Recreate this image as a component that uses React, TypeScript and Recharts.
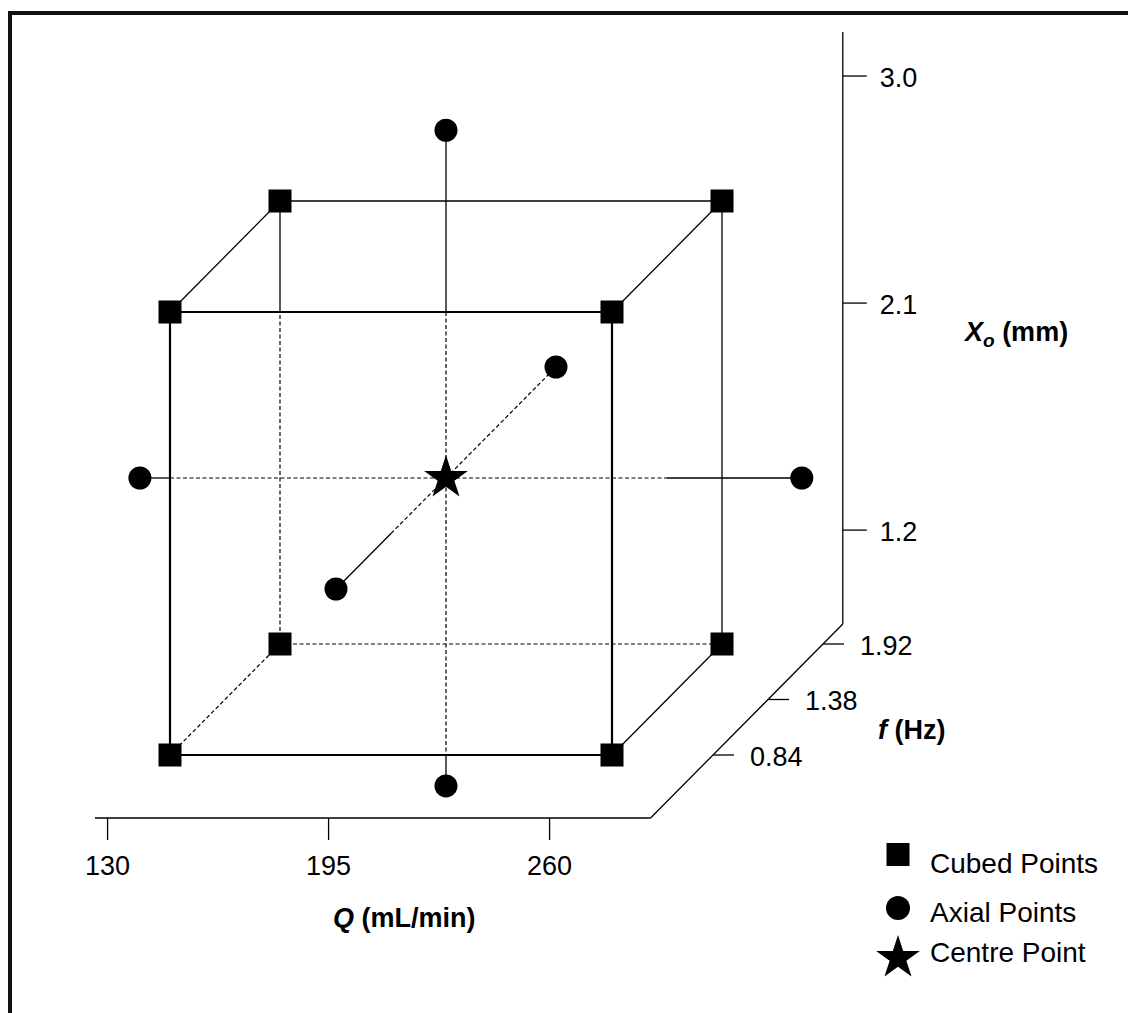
import React from "react";
import { ScatterChart, Scatter, XAxis, YAxis, ReferenceLine, Legend } from "recharts";

// axis tick values (real units)
const Q_TICKS = [130, 195, 260]; // mL/min
const F_TICKS = [0.84, 1.38, 1.92]; // Hz
const XO_TICKS = [1.2, 2.1, 3.0]; // mm

// design points in coded levels [Q, f, Xo]
const CUBED_POINTS = [
  [-1, -1, -1], [1, -1, -1], [-1, -1, 1], [1, -1, 1],
  [-1, 1, -1], [1, 1, -1], [-1, 1, 1], [1, 1, 1],
];
const AXIAL_POINTS = [
  [-1.385, 0, 0], [1.61, 0, 0],
  [0, -2, 0], [0, 2, 0],
  [0, 0, 1.57], [0, 0, -1.39],
];
const CENTRE_POINT = [[0, 0, 0]];

const LEGEND_ITEMS = ["Cubed Points", "Axial Points", "Centre Point"];

// ---- layout / projection ----
const CHART_W = 1116;
const CHART_H = 998;
const ORIGIN = { x: 434, y: 463 }; // where coded (0,0,0) lands inside the chart
const SX = 221; // px per coded Q
const SY = 221.5; // px per coded Xo
const DX = 55; // oblique depth offset per coded f
const DY = 55.5;

const X_DOMAIN = [-ORIGIN.x / SX, (CHART_W - ORIGIN.x) / SX];
const Y_DOMAIN = [-(CHART_H - ORIGIN.y) / SY, ORIGIN.y / SY];

const FONT = "'Liberation Sans', Arial, Helvetica, sans-serif";

const codeQ = (v: number) => (v - 195) / 65;
const codeF = (v: number) => (v - 1.38) / 0.54;
const codeXo = (v: number) => (v - 2.1) / 0.9;

const project = (p: number[]) => ({ X: p[0] + (p[1] * DX) / SX, Y: p[2] + (p[1] * DY) / SY });
const pt = (p: number[]) => {
  const P = project(p);
  return { x: P.X, y: P.Y };
};

// axes frame placement (coded space)
const FQ = -2.135; // depth of the Q axis
const QA = 1.457; // Q position of the f axis
const FT = 1.36; // depth where the f axis meets the Xo axis
const XO_SHIFT = 0.449; // the Xo scale is drawn offset from the cube
const XO_STRETCH = 1.025;
const XO_TOP = 1.673;

const xoAxisPos = (v: number) => codeXo(v) * XO_STRETCH + XO_SHIFT;

const KY = DY / SY;
const KX = DX / SX;

const FRONT_EDGES = [
  [[-1, -1, 1], [1, -1, 1]],
  [[-1, -1, -1], [1, -1, -1]],
  [[-1, -1, -1], [-1, -1, 1]],
  [[1, -1, -1], [1, -1, 1]],
];
const SOLID_EDGES = [
  [[-1, 1, 1], [1, 1, 1]],
  [[-1, -1, 1], [-1, 1, 1]],
  [[1, -1, 1], [1, 1, 1]],
  [[1, 1, -1], [1, 1, 1]],
  [[1, -1, -1], [1, 1, -1]],
  [[-1, 1, 1 - 2 * KY], [-1, 1, 1]],
  [[0, 0, 1.57], [0, 0, 1 - KY]],
  [[0, 0, -1 - KY], [0, 0, -1.39]],
  [[-1.385, 0, 0], [-1 - KX, 0, 0]],
  [[1, 0, 0], [1.61, 0, 0]],
  [[0, -2, 0], [0, -1, 0]],
];
const DASHED_EDGES = [
  [[-1, 1, -1], [-1, 1, 1 - 2 * KY]],
  [[-1, 1, -1], [1, 1, -1]],
  [[-1, -1, -1], [-1, 1, -1]],
  [[0, 0, 1 - KY], [0, 0, -1 - KY]],
  [[-1 - KX, 0, 0], [1, 0, 0]],
  [[0, -1, 0], [0, 2, 0]],
];
const AXIS_LINES = [
  [[-1.057, FQ, -1], [QA, FQ, -1]],
  [[QA, FQ, -1], [QA, FT, -1]],
  [[QA, FT, -1], [QA, FT, XO_TOP]],
];

const cubedData = CUBED_POINTS.map(project);
const axialData = AXIAL_POINTS.map(project);
const centreData = CENTRE_POINT.map(project);

const qLabelData = Q_TICKS.map((v) => ({ ...project([codeQ(v), FQ, -1]), label: String(v) }));
const fLabelData = F_TICKS.map((v) => ({ ...project([QA, codeF(v), -1]), label: v.toFixed(2) }));
const xoLabelData = XO_TICKS.map((v) => ({
  ...project([QA, FT, xoAxisPos(v)]),
  label: v.toFixed(1),
}));

const starPoints = (cx: number, cy: number, R: number) => {
  const r = R * 0.382;
  const out: string[] = [];
  for (let i = 0; i < 10; i++) {
    const a = ((-90 + i * 36) * Math.PI) / 180;
    const rad = i % 2 === 0 ? R : r;
    out.push(`${cx + rad * Math.cos(a)},${cy + rad * Math.sin(a)}`);
  }
  return out.join(" ");
};

const SquareMark = (props: any) => (
  <rect x={props.cx - 11.5} y={props.cy - 11.5} width={23} height={23} fill="#000" />
);
const CircleMark = (props: any) => <circle cx={props.cx} cy={props.cy} r={11.5} fill="#000" />;
const StarMark = (props: any) => <polygon points={starPoints(props.cx, props.cy, 23)} fill="#000" />;

const tickText = (dx: number, dy: number, anchor: "start" | "middle") => (props: any) => (
  <text
    x={props.cx + dx}
    y={props.cy + dy}
    textAnchor={anchor}
    fontSize={27}
    fontFamily={FONT}
    fill="#000"
  >
    {props.payload.label}
  </text>
);

function LegendBox() {
  const baselines = [43.3, 91.7, 131.7];
  return (
    <svg width={260} height={150} style={{ display: "block" }}>
      <rect x={28 - 11.5} y={24.5 - 11.5} width={23} height={23} fill="#000" />
      <circle cx={28} cy={78} r={12} fill="#000" />
      <polygon points={starPoints(28, 128, 23)} fill="#000" />
      {LEGEND_ITEMS.map((name, i) => (
        <text key={name} x={60} y={baselines[i]} fontSize={28} fontFamily={FONT} fill="#000">
          {name}
        </text>
      ))}
    </svg>
  );
}

export default function App() {
  const tickSegs = [
    ...Q_TICKS.map((v) => {
      const a = project([codeQ(v), FQ, -1]);
      return [{ x: a.X, y: a.Y }, { x: a.X, y: a.Y - 22 / SY }];
    }),
    ...F_TICKS.map((v) => {
      const a = project([QA, codeF(v), -1]);
      return [{ x: a.X, y: a.Y }, { x: a.X + 21 / SX, y: a.Y }];
    }),
    ...XO_TICKS.map((v) => {
      const a = project([QA, FT, xoAxisPos(v)]);
      return [{ x: a.X, y: a.Y }, { x: a.X + 24 / SX, y: a.Y }];
    }),
  ];

  return (
    <div
      style={{
        position: "fixed",
        left: 8,
        top: 11,
        width: CHART_W,
        height: CHART_H,
        borderLeft: "4px solid #111",
        borderTop: "4px solid #111",
        background: "#fff",
        fontFamily: FONT,
      }}
    >
      <ScatterChart width={CHART_W} height={CHART_H} margin={{ top: 0, right: 0, bottom: 0, left: 0 }}>
        <XAxis type="number" dataKey="X" domain={X_DOMAIN} hide allowDataOverflow />
        <YAxis type="number" dataKey="Y" domain={Y_DOMAIN} hide allowDataOverflow />

        {AXIS_LINES.map((s, i) => (
          <ReferenceLine key={`ax${i}`} segment={[pt(s[0]), pt(s[1])]} stroke="#000" strokeWidth={1.3} />
        ))}
        {tickSegs.map((s, i) => (
          <ReferenceLine key={`tk${i}`} segment={s} stroke="#000" strokeWidth={1.3} />
        ))}
        {FRONT_EDGES.map((s, i) => (
          <ReferenceLine key={`fe${i}`} segment={[pt(s[0]), pt(s[1])]} stroke="#000" strokeWidth={2.2} />
        ))}
        {SOLID_EDGES.map((s, i) => (
          <ReferenceLine key={`se${i}`} segment={[pt(s[0]), pt(s[1])]} stroke="#000" strokeWidth={1.3} />
        ))}
        {DASHED_EDGES.map((s, i) => (
          <ReferenceLine
            key={`de${i}`}
            segment={[pt(s[0]), pt(s[1])]}
            stroke="#000"
            strokeWidth={1.2}
            strokeDasharray="4 2.5"
          />
        ))}

        <Scatter name="Cubed Points" data={cubedData} shape={SquareMark} isAnimationActive={false} />
        <Scatter name="Axial Points" data={axialData} shape={CircleMark} isAnimationActive={false} />
        <Scatter name="Centre Point" data={centreData} shape={StarMark} isAnimationActive={false} />

        <Scatter data={qLabelData} shape={tickText(0, 57, "middle")} isAnimationActive={false} legendType="none" />
        <Scatter data={fLabelData} shape={tickText(37, 10.7, "start")} isAnimationActive={false} legendType="none" />
        <Scatter data={xoLabelData} shape={tickText(37, 10.5, "start")} isAnimationActive={false} legendType="none" />

        <text x={321} y={911.5} fontSize={27} fontWeight="bold" fontFamily={FONT} fill="#000">
          <tspan fontStyle="italic">Q</tspan> (mL/min)
        </text>
        <text x={866} y={724} fontSize={27} fontWeight="bold" fontFamily={FONT} fill="#000">
          <tspan fontStyle="italic">f</tspan> (Hz)
        </text>
        <text x={953} y={326} fontSize={27} fontWeight="bold" fontFamily={FONT} fill="#000">
          <tspan fontStyle="italic">X</tspan>
          <tspan fontStyle="italic" fontSize={19} dy={6}>o</tspan>
          <tspan dy={-6}> (mm)</tspan>
        </text>

        <Legend
          layout="vertical"
          align="center"
          verticalAlign="middle"
          wrapperStyle={{ left: 858, top: 815, width: 260, height: 150 }}
          content={() => <LegendBox />}
        />
      </ScatterChart>
    </div>
  );
}
